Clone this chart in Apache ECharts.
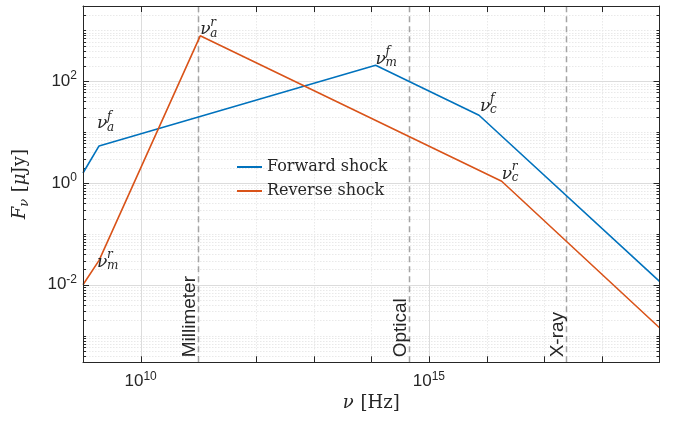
<!DOCTYPE html>
<html><head><meta charset="utf-8">
<script src="https://cdn.jsdelivr.net/npm/echarts@6/dist/echarts.min.js"></script>
<style>html,body{margin:0;padding:0;background:#fff}#c{width:675px;height:424px}</style>
</head><body><div id="c"></div><script>
// ---- axis ranges ----
const X_MIN = 1e9, X_MAX = 1e19;
const Y_MIN = 3e-4, Y_MAX = 3e3;
// ---- data ----
const forwardNu = [1e9, 1.9e9, 1.19e14, 7.4e15, 1e19];
const forwardF  = [1.57, 5.35, 206, 21.4, 0.0117];
const reverseNu = [1e9, 1.9e9, 1.08e11, 1.83e16, 1e19];
const reverseF  = [0.01, 0.0302, 778, 1.08, 0.00143];
const bandNames = ['Millimeter', 'Optical', 'X-ray'];
const bandNu    = [1e11, 4.6e14, 2.42e17];
const xTickLabels = [1e10, 1e15];
const yTickLabels = [1e-2, 1, 1e2];
// annotations: which series, which break index, subscript, superscript
const annoSeries = ['f', 'r', 'r', 'f', 'f', 'r'];
const annoIndex  = [1, 1, 2, 2, 3, 3];
const annoSub    = ['a', 'm', 'a', 'm', 'c', 'c'];
const annoSup    = ['f', 'r', 'r', 'f', 'f', 'r'];

// ---- placement / style (not data) ----
const annoOffset = [[-2, -22], [-2, 2], [0, -6], [0, -6], [1, -9], [0, -7]];
const TXT = '#262626';
const SANS = '"Liberation Sans", Arial, sans-serif';
const SERIF = '"DejaVu Serif", serif';

// tick value lists (axis decoration)
const xDecades = [];
for (let k = 10; k <= 18; k++) xDecades.push(Math.pow(10, k));
const yMinor = [];
for (let k = -4; k <= 3; k++) for (let m = 1; m <= 9; m++) {
  const v = m * Math.pow(10, k);
  if (v > Y_MIN * 1.0001 && v < Y_MAX * 0.9999 && !yTickLabels.some(t => Math.abs(Math.log10(t) - Math.log10(v)) < 1e-6)) yMinor.push(v);
}
const xMinor = xDecades.filter(v => !xTickLabels.some(t => Math.abs(Math.log10(t) - Math.log10(v)) < 1e-6));

function supLabel(v, list) {
  const e = Math.log10(v);
  for (const t of list) if (Math.abs(e - Math.log10(t)) < 1e-3) {
    const n = Math.round(e);
    return '{b|10}{s|' + n + '}';
  }
  return '';
}
const richTick = {
  b: {fontSize: 17, fontFamily: SANS, color: TXT, lineHeight: 22},
  s: {fontSize: 12, fontFamily: SANS, color: TXT, lineHeight: 12, verticalAlign: 'top'}
};
const nameRich = {
  i: {fontFamily: SERIF, fontStyle: 'italic', fontSize: 18, color: TXT, lineHeight: 22},
  r: {fontFamily: SERIF, fontSize: 18, color: TXT, lineHeight: 22},
  sub: {fontFamily: SERIF, fontStyle: 'italic', fontSize: 13, color: TXT, lineHeight: 12, verticalAlign: 'bottom'}
};

const crisp = v => Math.round(v) + 0.5;

function decorRender(params, api) {
  const ch = [];
  const P = (x, y) => api.coord([x, y]);
  const tl = P(X_MIN, Y_MAX), br = P(X_MAX, Y_MIN);
  const left = tl[0], top = tl[1], right = br[0], bottom = br[1];
  const minorStyle = {stroke: '#e9e9e9', lineWidth: 1, lineDash: [1.5, 1.5]};
  const majorStyle = {stroke: '#dcdcdc', lineWidth: 1};
  const tickStyle = {stroke: TXT, lineWidth: 1};
  const line = (x1, y1, x2, y2, s) => ch.push({type: 'line', shape: {x1, y1, x2, y2}, style: s, silent: true});
  yMinor.forEach(v => { const y = crisp(P(X_MIN, v)[1]); line(left, y, right, y, minorStyle); });
  xMinor.forEach(v => { const x = crisp(P(v, Y_MIN)[0]); line(x, top, x, bottom, minorStyle); });
  yTickLabels.forEach(v => { const y = crisp(P(X_MIN, v)[1]); line(left, y, right, y, majorStyle); });
  xTickLabels.forEach(v => { const x = crisp(P(v, Y_MIN)[0]); line(x, top, x, bottom, majorStyle); });
  // ticks
  xDecades.forEach(v => { const x = crisp(P(v, Y_MIN)[0]);
    line(x, bottom, x, bottom - 6, tickStyle); line(x, top, x, top + 6, tickStyle); });
  yTickLabels.forEach(v => { const y = crisp(P(X_MIN, v)[1]);
    line(left, y, left + 6, y, tickStyle); line(right, y, right - 6, y, tickStyle); });
  yMinor.forEach(v => { const y = crisp(P(X_MIN, v)[1]);
    line(left, y, left + 3, y, tickStyle); line(right, y, right - 3, y, tickStyle); });
  return {type: 'group', children: ch};
}

function bandRender(params, api) {
  const i = api.value(2);
  const nu = bandNu[i];
  const b = api.coord([nu, Y_MIN]), t = api.coord([nu, Y_MAX]);
  const x = crisp(b[0]);
  return {type: 'group', children: [
    {type: 'line', shape: {x1: x, y1: b[1], x2: x, y2: t[1]},
     style: {stroke: '#a4a4a4', lineWidth: 1.5, lineDash: [6, 4]}},
    {type: 'text', x: x + 1, y: b[1] - 5, rotation: Math.PI / 2,
     style: {text: bandNames[i], font: '19px ' + SANS, fill: TXT, align: 'left', verticalAlign: 'bottom'}}
  ]};
}

const annoData = annoSeries.map((s, i) => {
  const j = annoIndex[i];
  return s === 'f' ? [forwardNu[j], forwardF[j], i] : [reverseNu[j], reverseF[j], i];
});
function annoRender(params, api) {
  const i = api.value(2);
  const p = api.coord([api.value(0), api.value(1)]);
  const o = annoOffset[i];
  const x = p[0] + o[0], y = p[1] + o[1];
  const it = (sz) => 'italic ' + sz + 'px ' + SERIF;
  return {type: 'group', children: [
    {type: 'text', x: x, y: y, style: {text: 'ν', font: it(17), fill: TXT, align: 'left', verticalAlign: 'middle'}},
    {type: 'text', x: x + 10, y: y + 4, style: {text: annoSub[i], font: it(12), fill: TXT, align: 'left', verticalAlign: 'middle'}},
    {type: 'text', x: x + 10, y: y - 7, style: {text: annoSup[i], font: it(12), fill: TXT, align: 'left', verticalAlign: 'middle'}}
  ]};
}

const axisCommonX = {
  type: 'log', logBase: 10, min: X_MIN, max: X_MAX, interval: 1, z: 5,
  axisLine: {show: true, onZero: false, lineStyle: {color: TXT, width: 1}},
  axisTick: {show: false}, splitLine: {show: false}, minorTick: {show: false}, minorSplitLine: {show: false}
};
const axisCommonY = {
  type: 'log', logBase: 10, min: Y_MIN, max: Y_MAX, splitNumber: 7, z: 5,
  axisLine: {show: true, onZero: false, lineStyle: {color: TXT, width: 1}},
  axisTick: {show: false}, splitLine: {show: false}, minorTick: {show: false}, minorSplitLine: {show: false}
};

const option = {
  animation: false,
  backgroundColor: '#ffffff',
  grid: {left: 83, right: 15.5, top: 6, bottom: 61.7, containLabel: false},
  xAxis: [
    Object.assign({}, axisCommonX, {
      position: 'bottom',
      axisLabel: {margin: 8, formatter: v => supLabel(v, xTickLabels), rich: richTick, hideOverlap: false},
      name: '{i|ν}  {r|[Hz]}', nameLocation: 'middle', nameGap: 25,
      nameTextStyle: {rich: nameRich}
    }),
    Object.assign({}, axisCommonX, {position: 'top', axisLabel: {show: false}})
  ],
  yAxis: [
    Object.assign({}, axisCommonY, {
      position: 'left',
      axisLabel: {margin: 6, formatter: v => supLabel(v, yTickLabels), rich: richTick},
      name: '{i|F}{sub|ν}  {r|[}{i|μ}{r|Jy]}', nameLocation: 'middle', nameGap: 52,
      nameTextStyle: {rich: nameRich}
    }),
    Object.assign({}, axisCommonY, {position: 'right', axisLabel: {show: false}})
  ],
  legend: {
    data: ['Forward shock', 'Reverse shock'],
    orient: 'vertical', left: 237, top: 157, padding: 0, icon: 'rect', itemWidth: 25, itemHeight: 2, itemGap: 4,
    textStyle: {fontFamily: SERIF, fontSize: 16, color: TXT, lineHeight: 20},
    selectedMode: false
  },
  series: [
    {type: 'custom', name: 'decor', renderItem: decorRender, data: [[X_MIN, Y_MIN]], silent: true, z: 1, clip: false},
    {type: 'custom', name: 'bands', renderItem: bandRender,
     data: bandNu.map((v, i) => [v, Y_MIN, i]), silent: true, z: 2, clip: false},
    {type: 'line', name: 'Forward shock', data: forwardNu.map((v, i) => [v, forwardF[i]]),
     symbol: 'none', lineStyle: {color: '#0072BD', width: 1.6}, itemStyle: {color: '#0072BD'}, z: 3},
    {type: 'line', name: 'Reverse shock', data: reverseNu.map((v, i) => [v, reverseF[i]]),
     symbol: 'none', lineStyle: {color: '#D95319', width: 1.6}, itemStyle: {color: '#D95319'}, z: 3},
    {type: 'custom', name: 'anno', renderItem: annoRender, data: annoData, silent: true, z: 4, clip: false}
  ]
};
const chart = echarts.init(document.getElementById('c'), null, {renderer: 'canvas'});
chart.setOption(option);
</script></body></html>
